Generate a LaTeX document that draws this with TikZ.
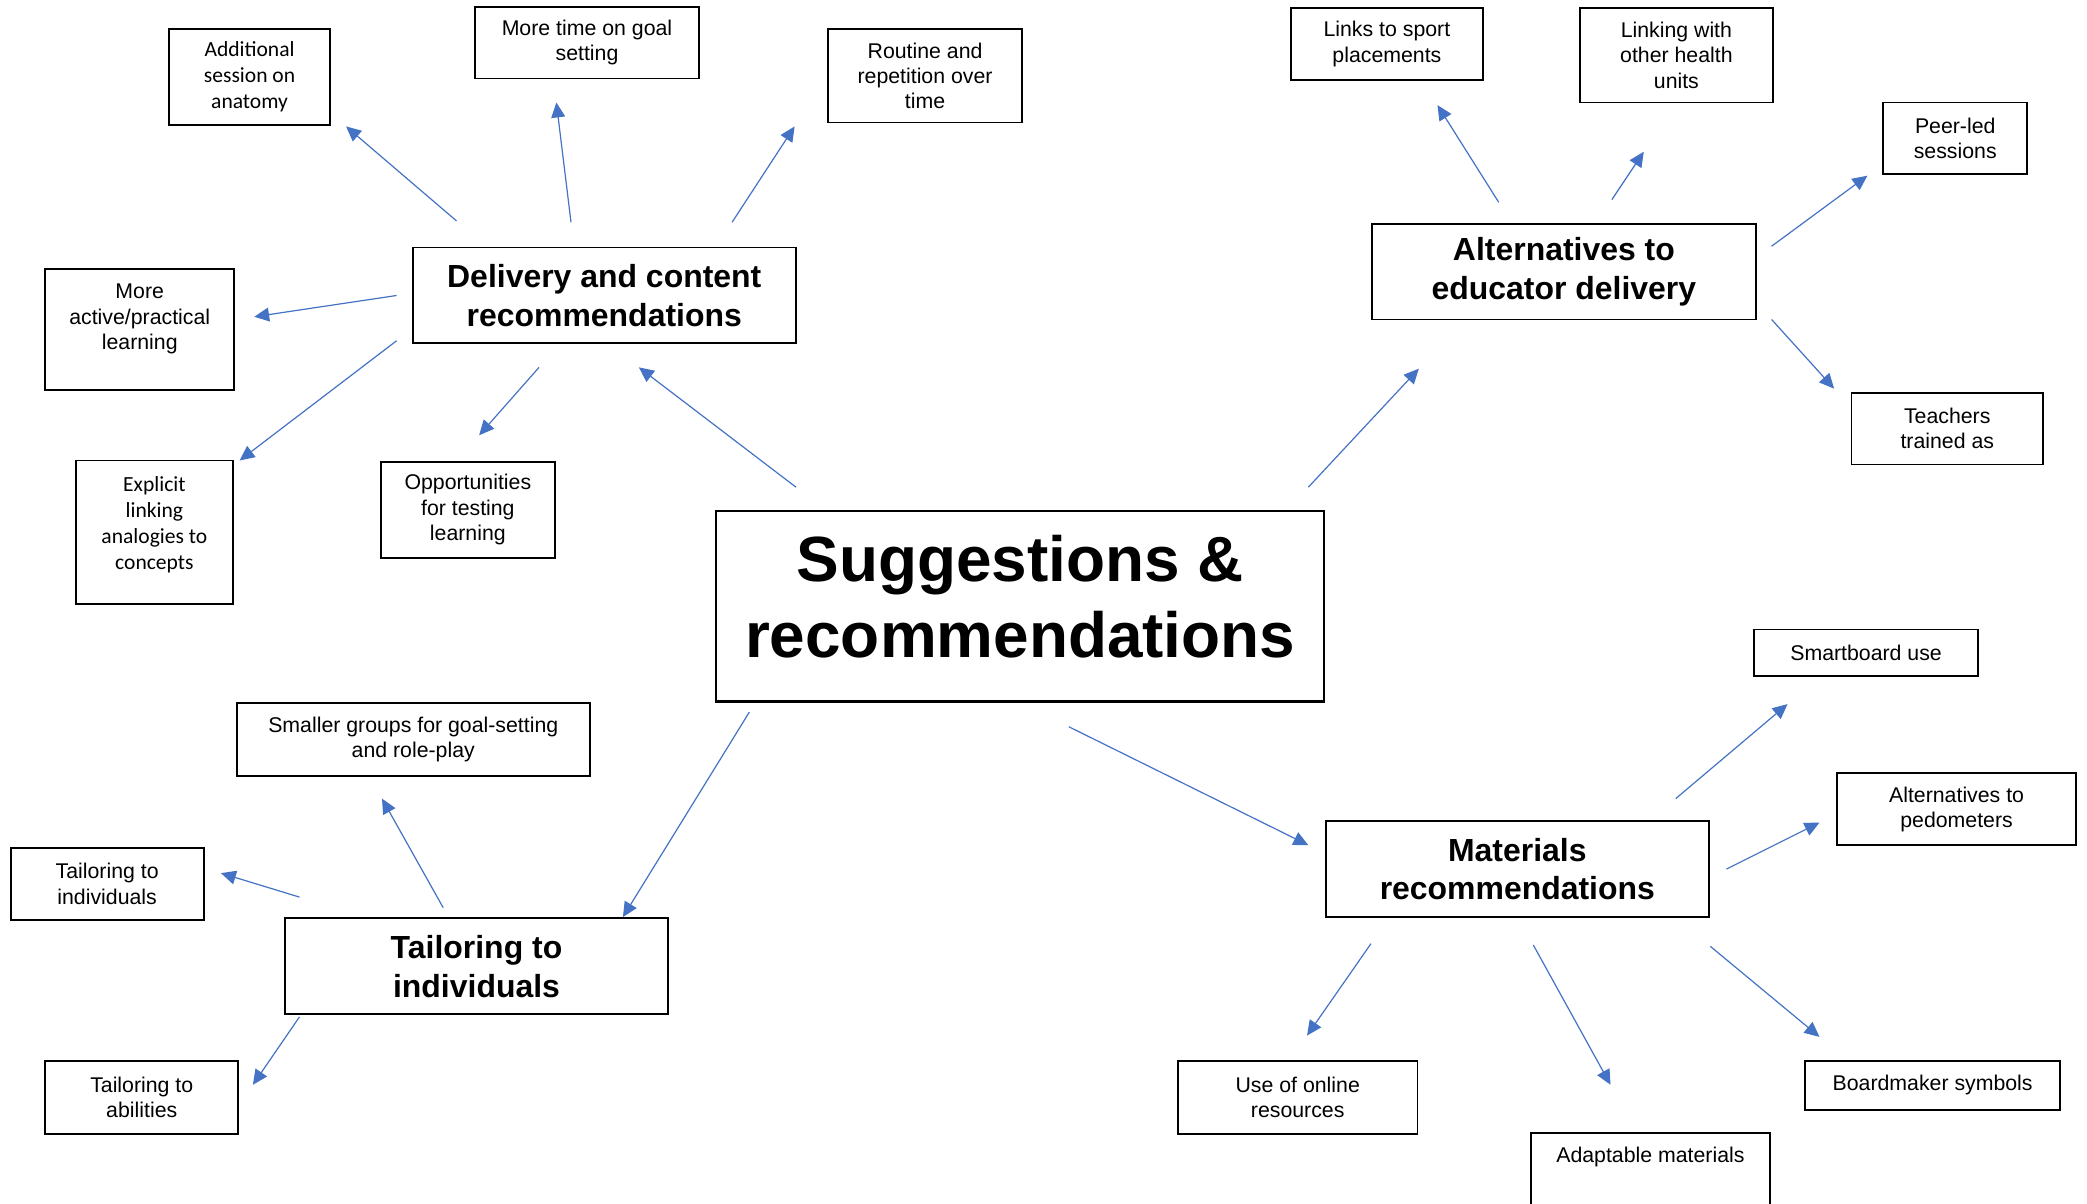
\documentclass[tikz,border=0pt]{standalone}
\usepackage{fontspec}
\setmainfont{Liberation Sans}
\newfontfamily\calibrifam{Carlito}
\usetikzlibrary{arrows.meta}
\definecolor{linkblue}{HTML}{4472C4}

% box whose text starts at a fixed distance from its top edge
% #1 width, #2 height, #3 first baseline below top, #4 text
\newcommand{\fixedtopbox}[4]{\parbox[c][#2][t]{#1}{\centering\rule{0pt}{#3}#4}}

\tikzset{
  box/.style={draw=black, line width=0.7pt, inner sep=0pt, align=center,
              font=\fontsize{8}{9.5}\selectfont},
  calbox/.style={box, font=\calibrifam\fontsize{8.1}{9.75}\selectfont},
  headbox/.style={box, font=\bfseries\fontsize{12}{14.5}\selectfont},
  mainbox/.style={box, line width=0.8pt, font=\bfseries\fontsize{24}{28.5}\selectfont},
  link/.style={draw=linkblue, line width=0.45pt,
               -{Triangle[length=5.6pt,width=5.2pt]}},
}

\begin{document}
\begin{tikzpicture}[x=0.5pt, y=-0.5pt]
  \path[fill=white] (0,0) rectangle (1568,904);
  \useasboundingbox (0,0) rectangle (1568,904);

  % central topic
  \node[mainbox] (main) at (766.5,455.5)
    {\fixedtopbox{228.5pt}{71.5pt}{26.5pt}{Suggestions \&\\recommendations}};

  % delivery and content branch
  \node[headbox, minimum width=144pt, minimum height=36pt] (deliv) at (454,222)
    {Delivery and content\\recommendations};
  \node[calbox, minimum width=60.5pt, minimum height=36pt] (anat) at (187.5,58)
    {Additional\\session on\\anatomy};
  \node[box, minimum width=84pt, minimum height=27pt] (goal) at (441,32)
    {More time on goal\\setting};
  \node[box, minimum width=73pt, minimum height=35pt] (rout) at (695,57)
    {Routine and\\repetition over\\time};
  \node[box] (act) at (105,247.5)
    {\fixedtopbox{71pt}{45.5pt}{11.3pt}{More\\active/practical\\learning}};
  \node[calbox] (expl) at (116,400)
    {\fixedtopbox{59pt}{54pt}{11.7pt}{Explicit\\linking\\analogies to\\concepts}};
  \node[box, minimum width=65.5pt, minimum height=36pt] (opp) at (351.5,383)
    {Opportunities\\for testing\\learning};

  % alternatives to educator delivery branch
  \node[headbox, minimum width=144pt, minimum height=36pt] (alted) at (1175,204)
    {Alternatives to\\educator delivery};
  \node[box, minimum width=72pt, minimum height=27pt] (sport) at (1042,33)
    {Links to sport\\placements};
  \node[box, minimum width=72.5pt, minimum height=35.5pt] (health) at (1259.5,41.5)
    {Linking with\\other health\\units};
  \node[box, minimum width=54pt, minimum height=27pt] (peer) at (1469,104)
    {Peer-led\\sessions};
  \node[box, minimum width=72pt, minimum height=27pt] (teach) at (1463,322)
    {Teachers\\trained as};

  % materials branch
  \node[headbox, minimum width=144pt, minimum height=36pt] (mat) at (1140,653)
    {Materials\\recommendations};
  \node[box, minimum width=84pt, minimum height=17.5pt] (smart) at (1402,490.5)
    {Smartboard use};
  \node[box, minimum width=90pt, minimum height=27pt] (pedo) at (1470,608)
    {Alternatives to\\pedometers};
  \node[box, minimum width=90pt, minimum height=27.5pt] (online) at (975,824.5)
    {Use of online\\resources};
  \node[box] (adapt) at (1240,895.5)
    {\fixedtopbox{90pt}{44.5pt}{11.3pt}{Adaptable materials}};
  \node[box, minimum width=96pt, minimum height=18.5pt] (board) at (1452,815.5)
    {Boardmaker symbols};

  % tailoring branch
  \node[headbox, minimum width=144pt, minimum height=36pt] (tail) at (358,726)
    {Tailoring to\\individuals};
  \node[box, minimum width=132.5pt, minimum height=27.5pt] (groups) at (310.5,555.5)
    {Smaller groups for goal-setting\\and role-play};
  \node[box, minimum width=72.5pt, minimum height=27pt] (tind) at (80.5,664)
    {Tailoring to\\individuals};
  \node[box, minimum width=72.5pt, minimum height=27.5pt] (abil) at (106.5,824.5)
    {Tailoring to\\abilities};

  % connector end points (arrows float between the boxes)
  \coordinate (main-deliv-s) at (598,366);   \coordinate (main-deliv-e) at (480,276);
  \coordinate (main-alted-s) at (983,366);   \coordinate (main-alted-e) at (1066,277);
  \coordinate (main-mat-s)   at (803,546);   \coordinate (main-mat-e)   at (983,635);
  \coordinate (main-tail-s)  at (563,535);   \coordinate (main-tail-e)  at (468,689);

  \coordinate (deliv-anat-s) at (343,166);   \coordinate (deliv-anat-e) at (260,95);
  \coordinate (deliv-goal-s) at (429,167);   \coordinate (deliv-goal-e) at (418,77);
  \coordinate (deliv-rout-s) at (550,167);   \coordinate (deliv-rout-e) at (597,95);
  \coordinate (deliv-act-s)  at (298,222);   \coordinate (deliv-act-e)  at (191,238);
  \coordinate (deliv-expl-s) at (298,256);   \coordinate (deliv-expl-e) at (180,346);
  \coordinate (deliv-opp-s)  at (405,276);   \coordinate (deliv-opp-e)  at (360,327);

  \coordinate (alted-sport-s)  at (1126,152); \coordinate (alted-sport-e)  at (1080,79);
  \coordinate (alted-health-s) at (1211,150); \coordinate (alted-health-e) at (1235,114);
  \coordinate (alted-peer-s)   at (1331,185); \coordinate (alted-peer-e)   at (1403,132);
  \coordinate (alted-teach-s)  at (1331,240); \coordinate (alted-teach-e)  at (1378,292);

  \coordinate (mat-smart-s)  at (1259,600);  \coordinate (mat-smart-e)  at (1343,529);
  \coordinate (mat-pedo-s)   at (1297,653);  \coordinate (mat-pedo-e)   at (1367,618);
  \coordinate (mat-online-s) at (1030,709);  \coordinate (mat-online-e) at (982,778);
  \coordinate (mat-adapt-s)  at (1152,710);  \coordinate (mat-adapt-e)  at (1210,815);
  \coordinate (mat-board-s)  at (1285,711);  \coordinate (mat-board-e)  at (1367,779);

  \coordinate (tail-groups-s) at (333,682);  \coordinate (tail-groups-e) at (287,600);
  \coordinate (tail-tind-s)   at (225,674);  \coordinate (tail-tind-e)   at (166,656);
  \coordinate (tail-abil-s)   at (225,764);  \coordinate (tail-abil-e)   at (190,815);

  \foreach \c in {main-deliv, main-alted, main-mat, main-tail,
                  deliv-anat, deliv-goal, deliv-rout, deliv-act, deliv-expl, deliv-opp,
                  alted-sport, alted-health, alted-peer, alted-teach,
                  mat-smart, mat-pedo, mat-online, mat-adapt, mat-board,
                  tail-groups, tail-tind, tail-abil}
    \draw[link] (\c-s) -- (\c-e);
\end{tikzpicture}
\end{document}
